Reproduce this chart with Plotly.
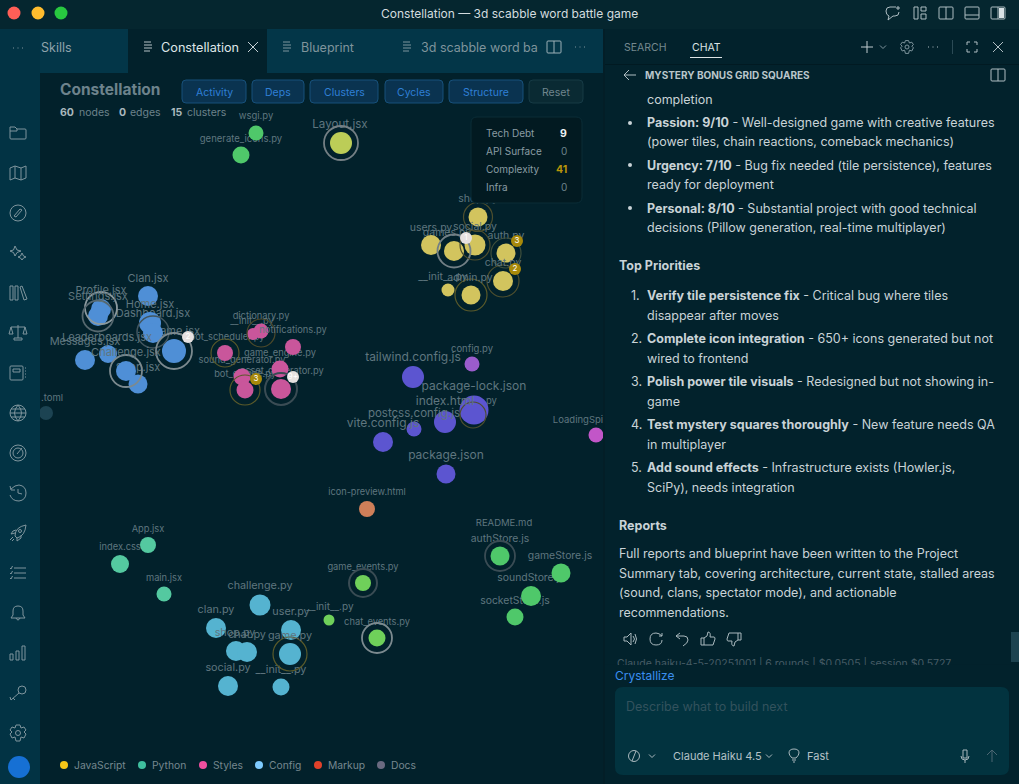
import re
import plotly.graph_objects as go

FONT = "Inter"
# ---------- chart data ----------
JS_NAMES = ["Clan.jsx","Profile.jsx","Settings.jsx","Home.jsx","Dashboard.jsx","Game.jsx","Leaderboards.jsx","Messages.jsx","Challenge.jsx","Shop.jsx"]
JS_X = [148,101,98,150,153,174,108,85,126,138]
JS_Y = [296,309,316,323,333,351,354,360,371,384]
JS_R = [10,10,10,11,10,12,9,10,10,9.5]
JS_LX = [148,101,98,150,153,176,107,85,126,138]
JS_LY = [279,291,297,305,314,332,338,342,353,368]
JS_LS = [11]*10

YEL_NAMES = ["shop.py","users.py","games.py","social.py","auth.py","chat.py","__init__.py","admin.py"]
YEL_X = [478,431,454,475,506,503,448,471]
YEL_Y = [217,245,251,245,253,281,290,295]
YEL_R = [9.5,10,10,10.5,9.5,10,6.5,9.5]
YEL_LX = [478,431,447,475,506,503,443,470]
YEL_LY = [199,228,233,227,236,263,277,278]
YEL_LS = [10.5]*8

MAG_NAMES = ["dictionary.py","__init__.py","notifications.py","bot_scheduler.py","game_engine.py","sound_generator.py","bot_engine.py","asset_generator.py"]
MAG_X = [261,253,293,225,280,242,245,281]
MAG_Y = [331,334,347,353,369,377,390,389]
MAG_R = [7.5,6,8,8,8.5,8.5,8.5,10]
MAG_LX = [261,252,293,227,280,242,245,282]
MAG_LY = [317,322,331,338,354,361,375,372]
MAG_LS = [9.3]*8

PUR_NAMES = ["tailwind.config.js","package-lock.json","index.html","postcss.config.js","vite.config.js","package.json"]
PUR_X = [413,474,445,414,383,446]
PUR_Y = [377,410,422,429,442,474]
PUR_R = [11,14.5,11,7.5,10,9.5]
PUR_LX = [413,474,445,414,383,446]
PUR_LY = [358,387,402,414,424,456]
PUR_LS = [12,12,12,11.5,12,12]

CYAN_NAMES = ["challenge.py","clan.py","user.py","shop.py","chat.py","game.py","social.py","__init__.py"]
CYAN_X = [260,216,291,236,247,290,228,281]
CYAN_Y = [605,628,630,651,652,654,686,687]
CYAN_R = [10.5,10,10,10,10,11,10,8.5]
CYAN_LX = [260,216,291,235,247,290,228,281]
CYAN_LY = [586,610,612,633,635,636,668,670]
CYAN_LS = [10.8]*8

TEAL_NAMES = ["App.jsx","index.css","main.jsx"]
TEAL_X = [148,120,164]
TEAL_Y = [545,564,594]
TEAL_R = [8,9,7.5]
TEAL_LX = [148,120,164]
TEAL_LY = [530,548,579]
TEAL_LS = [9.3]*3

LIME_NAMES = ["game_events.py","__init__.py","chat_events.py"]
LIME_X = [363,329,377]
LIME_Y = [583,620,638]
LIME_R = [8,5.5,8.5]
LIME_LX = [363,330,377]
LIME_LY = [568,607,623]
LIME_LS = [9.3,10,9.3]

GRN_NAMES = ["wsgi.py","generate_icons.py","authStore.js","gameStore.js","soundStore.js","socketStore.js"]
GRN_X = [256,241,500,561,531,515]
GRN_Y = [133,155,556,573,596,617]
GRN_R = [7.5,8.5,9.5,9.5,10,8.5]
GRN_LX = [256,241,500,560,531,515]
GRN_LY = [117,140,539,556,578,601]
GRN_LS = [9.5,9.5,10.4,10.4,10.4,10.4]

SOLO_NAMES = ["Layout.jsx","config.py","LoadingSpi","icon-preview.html",".toml"]
SOLO_X = [341,472,596,367,46]
SOLO_Y = [143,364,435,509,413]
SOLO_R = [11,7.5,7.5,8,7]
SOLO_LX = [340,472,578,367,52]
SOLO_LY = [125,350,421,493,399]
SOLO_LS = [11.6,9.5,9.5,9.2,9.5]
SOLO_COL = ["#bccd57","#9a5ccc","#c256c8","#cf7f59","#1c4352"]

EXTRA_NAMES = ["README.md",".py"]
EXTRA_X = [504,490]
EXTRA_Y = [524,402]

OVER_LABELS = {"index.html","Settings.jsx","Profile.jsx","Home.jsx","Messages.jsx","Leaderboards.jsx","game.py","shop.py","chat.py","social.py","user.py","admin.py","Challenge.jsx","postcss.config.js","vite.config.js","notifications.py"}

RING_X = [101,98,153,174,126,478,454,475,506,503,471,341,261,225,245,281,473,290,363,377,500]
RING_Y = [308,316,332,351,371,217,251,245,253,281,295,143,333,353,390,389,415,654,583,638,556]
RING_R = [16,15.5,16,18,16,14.5,16.5,15,15,16,16,17,14,14,15,16,13,17,14,15,15]
RING_C = ["#8b999e","#56686f","#42555d","#7c8a8f","#7c8a8f","#4e4f2e","#727f85","#4e4f2e","#3f4f3c","#4e4f2e","#5a5a2a","#747f84","#4e4a2a","#5a5a2a","#5a5a2a","#3a4c54","#4e4f2e","#5a5a2a","#3a4c54","#7c8a8f","#3a4c54"]
RING_W = [1.8,1.8,1.5,1.8,1.8,1.2,1.8,1.2,1.2,1.2,1.2,1.8,1.2,1.2,1.2,2,1.2,1.2,2,1.8,1.8]

BADGE_TEXT = ["2","1","3","2","3","9+"]
BADGE_X = [188,466,517,515,256,293]
BADGE_Y = [337,238,241,269,379,377]
BADGE_R = [6,6,6,6,6,6]
BADGE_C = ["#e6e1e0","#e6e1e0","#a8890a","#a8890a","#a8890a","#e6e1e0"]
BADGE_T = ["#fff","#fff","#fff","#fff","#fff","#fff"]

LEGEND_NAMES = ["JavaScript","Python","Styles","Config","Markup","Docs"]
LEGEND_X = [64,142,203,259,318,381]
LEGEND_C = ["#f5c518","#3fbf9f","#ef4f9f","#7ecbff","#e0412a","#6a6a80"]

BUTTONS = ["Activity","Deps","Clusters","Cycles","Structure","Reset"]
BUTTON_L = [182,252,310,385,449,529]
BUTTON_R = [246,304,378,443,523,583]

METRICS = ["Tech Debt","API Surface","Complexity","Infra"]
METRIC_VALUES = ["9","0","41","0"]
METRIC_Y = [133,151,169,187]

CHAT_LINES = [
 ("completion",646,99),
 ("<b>Passion: 9/10</b> - Well-designed game with creative features",646,122),
 ("(power tiles, chain reactions, comeback mechanics)",646,141),
 ("<b>Urgency: 7/10</b> - Bug fix needed (tile persistence), features",646,165),
 ("ready for deployment",646,184),
 ("<b>Personal: 8/10</b> - Substantial project with good technical",646,208),
 ("decisions (Pillow generation, real-time multiplayer)",646,227),
 ("<b>Top Priorities</b>",618,265),
 ("1.",630,295),("<b>Verify tile persistence fix</b> - Critical bug where tiles",646,295),
 ("disappear after moves",646,315),
 ("2.",630,338),("<b>Complete icon integration</b> - 650+ icons generated but not",646,338),
 ("wired to frontend",646,358),
 ("3.",630,381),("<b>Polish power tile visuals</b> - Redesigned but not showing in-",646,381),
 ("game",646,401),
 ("4.",630,424),("<b>Test mystery squares thoroughly</b> - New feature needs QA",646,424),
 ("in multiplayer",646,444),
 ("5.",630,467),("<b>Add sound effects</b> - Infrastructure exists (Howler.js,",646,467),
 ("SciPy), needs integration",646,487),
 ("<b>Reports</b>",618,525),
 ("Full reports and blueprint have been written to the Project",618,553),
 ("Summary tab, covering architecture, current state, stalled areas",618,573),
 ("(sound, clans, spectator mode), and actionable",618,592),
 ("recommendations.",618,612),
]
BULLET_Y = [123,165,208]

# ---------- colours ----------
BG = "#02212b"; SIDE = "#023344"; TITLE = "#05262f"; TAB = "#033648"; CHATBG = "#02222c"
BOX = "#02333f"; LABEL = "#5f767f"; ICON = "#7f959d"; TXT = "#c9d3d7"

shapes, ann = [], []

def rect(x0, y0, x1, y1, fill, line=None, r=0, lw=1, layer="above"):
    if r:
        p = (f"M{x0+r} {y0} L{x1-r} {y0} Q{x1} {y0} {x1} {y0+r} L{x1} {y1-r} Q{x1} {y1} {x1-r} {y1} "
             f"L{x0+r} {y1} Q{x0} {y1} {x0} {y1-r} L{x0} {y0+r} Q{x0} {y0} {x0+r} {y0} Z")
        shapes.append(dict(type="path", path=p, fillcolor=fill, line=dict(color=line or fill, width=lw if line else 0), layer=layer))
    else:
        shapes.append(dict(type="rect", x0=x0, y0=y0, x1=x1, y1=y1, fillcolor=fill, line=dict(width=0), layer=layer))

def txt(s, x, y, size=12, color=TXT, anchor="left"):
    ann.append(dict(text=s, x=x, y=y, xanchor=anchor, yanchor="middle", showarrow=False, borderpad=0,
                    font=dict(family=FONT, size=size, color=color)))

def glyph(cx, cy, prims, color=ICON, w=1, s=1.0):
    for pr in prims:
        if pr[0] == "c":
            _, x, y, r = pr
            shapes.append(dict(type="circle", x0=cx+(x-r)*s, x1=cx+(x+r)*s, y0=cy+(y-r)*s, y1=cy+(y+r)*s,
                               line=dict(color=color, width=w), layer="above"))
        else:
            i = [0]
            def rep(m):
                v = float(m.group(0))*s + (cx if i[0] % 2 == 0 else cy)
                i[0] += 1
                return f"{v:.2f}"
            p = re.sub(r"-?\d+\.?\d*", rep, pr[1])
            shapes.append(dict(type="path", path=p, line=dict(color=color, width=w), layer="above"))

FOLDER=[("p","M-8 -6 L-3 -6 L-1 -4 L7 -4 Q8 -4 8 -3 L8 5 Q8 6 7 6 L-7 6 Q-8 6 -8 5 Z M-8 -2 L-1 -2 L-1 -4")]
MAP=[("p","M-8 -5 L-3 -7 L3 -5 L8 -7 L8 5 L3 7 L-3 5 L-8 7 Z M-3 -7 L-3 5 M3 -5 L3 7")]
COMPASS=[("c",0,0,8),("p","M-4 3 L2 -4 L4 -3 L-2 4 Z")]
SPARK=[("p","M-3 -7 L-1 -3 L3 -2 L-1 -0.5 L-3 3 L-4.5 -0.5 L-8 -2 L-4.5 -3 Z M4 0 L5.5 3 L8 4 L5.5 5 L4 7 L2.5 5 L0 4 L2.5 3 Z")]
BOOKS=[("p","M-8 -7 L-5 -7 L-5 7 L-8 7 Z M-3 -7 L0 -7 L0 7 L-3 7 Z M2 -6 L4 -7 L9 6 L6 7 Z")]
SCALES=[("p","M-7 -6 L7 -6 M0 -8 L0 5 M-4 7 L4 7 L4 5 L-4 5 Z M-7 -6 L-9 1 L-5 1 Z M7 -6 L5 1 L9 1 Z")]
NOTE=[("p","M-7 -7 L4 -7 Q5 -7 5 -6 L5 6 Q5 7 4 7 L-7 7 Q-8 7 -8 6 L-8 -6 Q-8 -7 -7 -7 Z M-5 -4 L2 -4 L2 -1 L-5 -1 Z M7 -5 L8 -5 M7 -2 L8 -2 M7 1 L8 1 M7 4 L8 4")]
GLOBE=[("c",0,0,8),("p","M-8 0 L8 0 M-7 -4 L7 -4 M-7 4 L7 4 M0 -8 Q-7 0 0 8 M0 -8 Q7 0 0 8")]
GAUGE=[("c",0,0,8),("c",0,0,5),("p","M-1 1 L4 -5")]
HISTORY=[("p","M-7 -4 Q-3 -8 1 -8 Q8 -7 8 0 Q8 7 1 8 Q-6 8 -8 2 M-8 -7 L-7 -3 L-3 -3 M0 -4 L0 0 L4 1")]
ROCKET=[("p","M-3 3 Q-3 -6 8 -8 Q7 3 -1 5 Z M-3 0 L-7 1 L-5 -2 L-2 -3 M-1 5 L-1 8 L3 5 L3 2 M-5 4 L-8 7 M-4 6 L-6 8"),("c",2,-2,1.5)]
LISTI=[("p","M-4 -5 L8 -5 M-4 0 L8 0 M-4 5 L8 5 M-8 -5 L-7 -4 L-5.5 -7 M-8 0 L-7 1 L-5.5 -2 M-8 5 L-7 6 L-5.5 3")]
BELL=[("p","M-7 5 L-5 2 L-5 -2 Q-5 -7 0 -7 Q5 -7 5 -2 L5 2 L7 5 Z M-2 5 Q0 9 2 5")]
BARS=[("p","M-8 1 L-5 1 L-5 7 L-8 7 Z M-2 -2 L1 -2 L1 7 L-2 7 Z M4 -7 L7 -7 L7 7 L4 7 Z")]
KEY=[("c",4,-3,4),("p","M1 0 L-7 7 L-8 4 M-5 5 L-3 7")]
GEAR=[("c",0,0,2.5),("p","M-2 -8 L2 -8 L3 -5 L6 -6 L8 -3 L6 -1 L8 1 L6 5 L3 4 L2 8 L-2 8 L-3 4 L-6 5 L-8 1 L-6 -1 L-8 -3 L-6 -6 L-3 -5 Z")]
DOC=[("p","M-4 -4 L3 -4 M-4 -1 L4 -1 M-4 2 L4 2 M-4 5 L2 5")]
CROSS=[("p","M-5 -5 L5 5 M5 -5 L-5 5")]
SPLIT=[("p","M-6 -6 L6 -6 Q7 -6 7 -5 L7 5 Q7 6 6 6 L-6 6 Q-7 6 -7 5 L-7 -5 Q-7 -6 -6 -6 Z M0 -6 L0 6")]
CHEV=[("p","M-3 -1.5 L0 1.5 L3 -1.5")]
DOTS=[("p","M-5 0 L-4 0 M-0.5 0 L0.5 0 M4 0 L5 0")]

# ---------- window chrome ----------
rect(603,29,1019,664,CHATBG,layer="below")
rect(0,0,1019,29,TITLE)
rect(0,29,40,784,SIDE)
rect(40,29,603,73,TAB)
rect(128,29,267,73,BG)
rect(603,29,1019,66,CHATBG)
rect(603,64,1019,65,"#011a22")
rect(603,665,1019,784,"#02222c")
rect(603,29,605,784,"#031e27")
rect(1011,632,1019,662,"#1d4350")
rect(615,687,1009,775,BOX,r=8)
for x,c in zip([14,38,61],["#ff5f57","#ffbd2e","#28c840"]):
    shapes.append(dict(type="circle",x0=x-6.5,x1=x+6.5,y0=6.5,y1=19.5,fillcolor=c,line=dict(width=0),layer="above"))
shapes.append(dict(type="circle",x0=8,x1=30,y0=756,y1=778,fillcolor="#1670d4",line=dict(width=0),layer="above"))

txt("Constellation — 3d scabble word battle game",509,13,12,"#d3dcdf","center")
txt("Skills",40,47,12.5,"#8fa3ab")
txt("Constellation",160,47,12.7,"#dfe6e8")
txt("Blueprint",300,47,12.5,"#7f949c")
txt("3d scabble word ba",420,47,12.5,"#7f949c")
glyph(18,48,DOTS); glyph(580,47,DOTS)
glyph(148,46,DOC,"#b7c4c8"); glyph(287,46,DOC); glyph(407,46,DOC)
glyph(253,47,CROSS,"#c5d0d4"); glyph(554,47,SPLIT,"#9db0b7")

for i,g in enumerate([FOLDER,MAP,COMPASS,SPARK,BOOKS,SCALES,NOTE,GLOBE,GAUGE,HISTORY,ROCKET,LISTI,BELL,BARS,KEY,GEAR]):
    glyph(18,133+40*i,g)

# top right
glyph(893,13,[("p","M3 -6 L-3 -6 Q-7 -6 -7 -2 Q-7 2 -4 3 L-5 7 L0 3 L2 3 Q6 3 6 -1 M5 -7 L5 -3 M3 -5 L7 -5")],"#aebdc2")
glyph(920,13,[("p","M-6 -6 L-2 -6 L-2 6 L-6 6 Z M1 -6 L6 -6 L6 -2 L1 -2 Z M1 1 L6 1 L6 6 L1 6 Z")],"#aebdc2")
glyph(946,13,SPLIT,"#aebdc2")
glyph(972,13,[("p","M-6 -6 L6 -6 Q7 -6 7 -5 L7 5 Q7 6 6 6 L-6 6 Q-7 6 -7 5 L-7 -5 Q-7 -6 -6 -6 Z M-7 2 L7 2")],"#aebdc2")
glyph(998,13,SPLIT,"#aebdc2")
rect(999,8,1004,18,"#d9e2e5")

# chat header
txt("SEARCH",623,47,10.5,"#75898f")
txt("CHAT",691,47,10.5,"#dde4e6")
rect(690,57,722,58,"#dde4e6")
txt("<b>MYSTERY BONUS GRID SQUARES</b>",644,75,10,"#b9c6ca")
glyph(630,75,[("p","M6 0 L-6 0 M-1 -5 L-6 0 L-1 5")],"#b0bec3")
glyph(867,47,[("p","M-6 0 L6 0 M0 -6 L0 6")],"#c1ccd0"); glyph(883,47,CHEV)
glyph(907,47,GEAR,ICON,1,0.8); glyph(933,47,DOTS,"#b0bec3")
rect(952,40,953,54,"#2b4a55")
glyph(972,47,[("p","M-5 -2 L-5 -5 L-2 -5 M2 -5 L5 -5 L5 -2 M5 2 L5 5 L2 5 M-2 5 L-5 5 L-5 2")],"#b0bec3")
glyph(998,47,CROSS,"#b0bec3")
glyph(998,75,SPLIT,"#b0bec3")

# chat body
for s,x,y in CHAT_LINES:
    txt(s,x,y,12.5,TXT)
for y in BULLET_Y:
    shapes.append(dict(type="circle",x0=628,x1=632,y0=y-2,y1=y+2,fillcolor=TXT,line=dict(width=0),layer="above"))
glyph(630,639,[("p","M-6 -2 L-3 -2 L1 -6 L1 6 L-3 2 L-6 2 Z M3 -3 Q6 0 3 3 M5 -5 Q8 0 5 5")],"#a9b8bd")
glyph(656,639,[("p","M6 -3 Q3 -6 0 -6 Q-6 -6 -6 0 Q-6 6 0 6 Q6 6 6 1 M6 -6 L6 -3 L3 -3")],"#a9b8bd")
glyph(682,639,[("p","M-2 -6 L-6 -3 L-2 0 M-6 -3 L2 -3 Q6 -3 6 1 Q6 4 1 7")],"#a9b8bd")
glyph(708,639,[("p","M-7 -1 L-4 -1 L-4 6 L-7 6 Z M-4 -1 L-1 -3 L0 -7 Q3 -7 2 -2 L6 -2 Q7 -2 7 0 L5 6 L-4 6")],"#a9b8bd")
glyph(734,639,[("p","M7 1 L4 1 L4 -6 L7 -6 Z M4 1 L1 3 L0 7 Q-3 7 -2 2 L-6 2 Q-7 2 -7 0 L-5 -6 L4 -6")],"#a9b8bd")
txt("Crystallize",614,675,12,"#3a8ff0")
txt("Describe what to build next",625,706,12.5,"#33525d")
txt("Claude Haiku 4.5",672,756,11,"#b5c2c7")
txt("Fast",806,756,11,"#b5c2c7")
glyph(634,756,[("c",0,0,5.5),("p","M2 -5 L-2 5")],"#a9b8bd")
glyph(652,756,CHEV,"#a9b8bd"); glyph(769,756,CHEV,"#a9b8bd")
glyph(794,755,[("p","M-2 5 L2 5 M-1 7 L1 7 M-2 3 Q-5 0 -5 -2 Q-5 -6 0 -6 Q5 -6 5 -2 Q5 0 2 3 Z")],"#a9b8bd")
glyph(965,756,[("p","M-2 -6 L2 -6 L2 2 L-2 2 Z M-4 0 Q-4 4 0 4 Q4 4 4 0 M0 4 L0 7")],"#a9b8bd")
glyph(992,756,[("p","M0 6 L0 -6 M-5 -1 L0 -6 L5 -1")],"#4b6672")

# canvas header
txt("<b>Constellation</b>",59,89,15.5,"#6d838c")
for i,(b,l,r) in enumerate(zip(BUTTONS,BUTTON_L,BUTTON_R)):
    reset = b == "Reset"
    rect(l,80,r,103,"#0a2a33" if reset else "#0a3350","#163a45" if reset else "#17507a",r=4)
    txt(b,(l+r)/2,92,10.5,"#70868e" if reset else "#2f7fd6","center")
for n,l,x,xl in [("60","nodes",59,78),("0","edges",118,129),("15","clusters",170,186)]:
    txt(f"<b>{n}</b>",x,112,10.5,"#a9b8bd")
    txt(l,xl,112,10.5,"#6d838c")

# metric panel
rect(471,117,582,203,"#021a21","#0a2d37",r=6)
for m,v,y in zip(METRICS,METRIC_VALUES,METRIC_Y):
    txt(m,485,y,10,"#8a9ca3")
    if v == "9": txt("<b>9</b>",568,y,10.5,"#eef2f3","right")
    elif v == "41": txt("<b>41</b>",568,y,10.5,"#b8950a","right")
    else: txt(v,568,y,10,"#6d838c","right")

# legend
for n,x in zip(LEGEND_NAMES,LEGEND_X):
    txt(n,x+9,765,10.3,"#76888f")

# ---------- traces ----------
clusters = [
 (JS_NAMES,JS_X,JS_Y,JS_R,JS_LX,JS_LY,"#4f8fd6",JS_LS),
 (YEL_NAMES,YEL_X,YEL_Y,YEL_R,YEL_LX,YEL_LY,"#d2c45e",YEL_LS),
 (MAG_NAMES,MAG_X,MAG_Y,MAG_R,MAG_LX,MAG_LY,"#c9569b",MAG_LS),
 (PUR_NAMES,PUR_X,PUR_Y,PUR_R,PUR_LX,PUR_LY,"#5c55d0",PUR_LS),
 (CYAN_NAMES,CYAN_X,CYAN_Y,CYAN_R,CYAN_LX,CYAN_LY,"#55b3d0",CYAN_LS),
 (TEAL_NAMES,TEAL_X,TEAL_Y,TEAL_R,TEAL_LX,TEAL_LY,"#54c9a0",TEAL_LS),
 (LIME_NAMES,LIME_X,LIME_Y,LIME_R,LIME_LX,LIME_LY,"#6fd05a",LIME_LS),
 (GRN_NAMES,GRN_X,GRN_Y,GRN_R,GRN_LX,GRN_LY,"#4fc86a",GRN_LS),
 (SOLO_NAMES,SOLO_X,SOLO_Y,SOLO_R,SOLO_LX,SOLO_LY,SOLO_COL,SOLO_LS),
]
under, over = ([],[],[],[]), ([],[],[],[])
for c in clusters:
    for n,lx,ly,ls in zip(c[0],c[4],c[5],c[7]):
        dest = over if n in OVER_LABELS else under
        dest[0].append(n); dest[1].append(lx); dest[2].append(ly); dest[3].append(ls)
for n,x,y in zip(EXTRA_NAMES,EXTRA_X,EXTRA_Y):
    under[0].append(n); under[1].append(x); under[2].append(y); under[3].append(9.5)

fig = go.Figure()
def label_trace(d):
    fig.add_trace(go.Scatter(x=d[1],y=d[2],text=d[0],mode="text",textposition="middle center",hoverinfo="skip",
        textfont=dict(family=FONT,size=d[3],color=LABEL),showlegend=False))
label_trace(under)
for c in clusters:
    fig.add_trace(go.Scatter(x=c[1],y=c[2],mode="markers",showlegend=False,hovertext=c[0],
        marker=dict(size=[2*r for r in c[3]],color=c[6],opacity=1,line=dict(width=0))))
fig.add_trace(go.Scatter(x=RING_X,y=RING_Y,mode="markers",showlegend=False,hoverinfo="skip",
    marker=dict(size=[2*r for r in RING_R],color="rgba(0,0,0,0)",opacity=1,line=dict(color=RING_C,width=RING_W))))
label_trace(over)
fig.add_trace(go.Scatter(x=BADGE_X,y=BADGE_Y,text=BADGE_TEXT,mode="markers+text",textposition="middle center",showlegend=False,hoverinfo="skip",
    marker=dict(size=[2*r for r in BADGE_R],color=BADGE_C,opacity=1,line=dict(width=0)),
    textfont=dict(family=FONT,size=8,color=BADGE_T)))
fig.add_trace(go.Scatter(x=LEGEND_X,y=[765]*len(LEGEND_X),mode="markers",showlegend=False,hovertext=LEGEND_NAMES,
    marker=dict(size=8,color=LEGEND_C,opacity=1,line=dict(width=0))))
fig.add_trace(go.Scatter(x=[617],y=[664],text=["Claude haiku-4-5-20251001 | 6 rounds | $0.0505 | session $0.5727"],mode="text",
    textposition="middle right",hoverinfo="skip",showlegend=False,textfont=dict(family=FONT,size=10.5,color="#465c66")))

ax = dict(range=[0,1019],visible=False,fixedrange=True)
fig.update_layout(width=1019,height=784,margin=dict(l=0,r=0,t=0,b=0),paper_bgcolor=BG,plot_bgcolor=BG,
    xaxis=ax,yaxis=dict(range=[784,0],visible=False,fixedrange=True),shapes=shapes,annotations=ann,
    showlegend=False,hovermode="closest",font=dict(family=FONT))
fig.write_html("out.html",config=dict(displayModeBar=False),
    post_script="document.body.style.margin='0';document.body.style.overflow='hidden';document.body.style.background='#02212b';")
